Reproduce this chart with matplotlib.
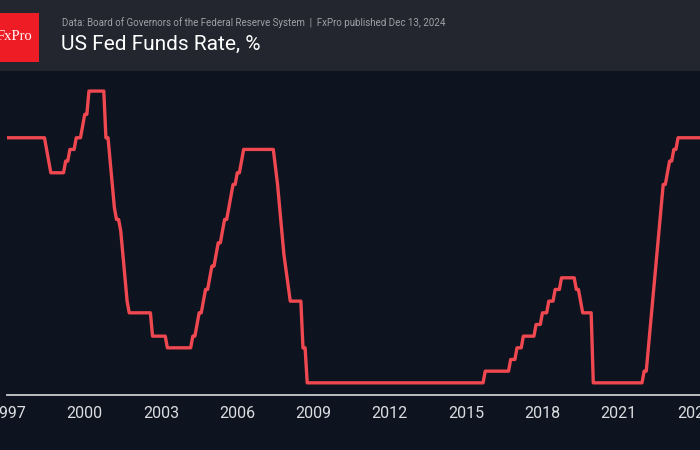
import matplotlib
matplotlib.use("Agg")
import matplotlib.pyplot as plt
from matplotlib.patches import Rectangle

# Fed funds target rate (upper bound), month-end values at the months around each change
months = ["1997-03", "1998-08", "1998-09", "1998-10", "1998-11", "1999-05", "1999-06", "1999-07",
          "1999-08", "1999-10", "1999-11", "2000-01", "2000-02", "2000-03", "2000-04", "2000-05",
          "2000-12", "2001-01", "2001-02", "2001-03", "2001-04", "2001-05", "2001-06", "2001-07",
          "2001-08", "2001-09", "2001-10", "2001-11", "2001-12", "2002-10", "2002-11", "2003-05",
          "2003-06", "2004-05", "2004-06", "2004-07", "2004-08", "2004-09", "2004-10", "2004-11",
          "2004-12", "2005-01", "2005-02", "2005-03", "2005-04", "2005-05", "2005-06", "2005-07",
          "2005-08", "2005-09", "2005-10", "2005-11", "2005-12", "2006-01", "2006-02", "2006-03",
          "2006-04", "2006-05", "2006-06", "2007-08", "2007-10", "2008-01", "2008-04", "2008-09",
          "2008-10", "2008-11", "2008-12", "2015-11", "2015-12", "2016-11", "2016-12", "2017-02",
          "2017-03", "2017-05", "2017-06", "2017-11", "2017-12", "2018-02", "2018-03", "2018-05",
          "2018-06", "2018-08", "2018-09", "2018-11", "2018-12", "2019-06", "2019-07", "2019-08",
          "2019-09", "2019-10", "2020-02", "2020-03", "2022-02", "2022-03", "2022-04", "2022-05",
          "2022-12", "2023-01", "2023-02", "2023-03", "2023-04", "2023-05", "2023-06", "2023-07",
          "2024-08", "2024-09", "2024-10", "2024-11", "2024-12"]
rates = [5.5, 5.5, 5.25, 5.0, 4.75, 4.75, 5.0, 5.0,
         5.25, 5.25, 5.5, 5.5, 5.75, 6.0, 6.0, 6.5,
         6.5, 5.5, 5.5, 5.0, 4.5, 4.0, 3.75, 3.75,
         3.5, 3.0, 2.5, 2.0, 1.75, 1.75, 1.25, 1.25,
         1.0, 1.0, 1.25, 1.25, 1.5, 1.75, 1.75, 2.0,
         2.25, 2.25, 2.5, 2.75, 2.75, 3.0, 3.25, 3.25,
         3.5, 3.75, 3.75, 4.0, 4.25, 4.5, 4.5, 4.75,
         4.75, 5.0, 5.25, 5.25, 4.5, 3.0, 2.0, 2.0,
         1.0, 1.0, 0.25, 0.25, 0.5, 0.5, 0.75, 0.75,
         1.0, 1.0, 1.25, 1.25, 1.5, 1.5, 1.75, 1.75,
         2.0, 2.0, 2.25, 2.25, 2.5, 2.5, 2.25, 2.25,
         2.0, 1.75, 1.75, 0.25, 0.25, 0.5, 0.5, 1.0,
         4.5, 4.5, 4.75, 5.0, 5.0, 5.25, 5.25, 5.5,
         5.5, 5.0, 5.0, 4.75, 4.5]
tick_years = [1997, 2000, 2003, 2006, 2009, 2012, 2015, 2018, 2021, 2024]

BG = "#0d131f"
HEADER = "#23262e"
RED = "#ef4850"

# month strings -> decimal years
x = [int(m[:4]) + (int(m[5:]) - 1) / 12 for m in months]

fig = plt.figure(figsize=(7, 4.5), dpi=100, facecolor=BG)

# header band and logo
fig.patches.append(Rectangle((0, 1 - 71 / 450), 1, 71 / 450, transform=fig.transFigure,
                             facecolor=HEADER, edgecolor="none", zorder=0))
fig.patches.append(Rectangle((0, 1 - 62 / 450), 39 / 700, 49 / 450, transform=fig.transFigure,
                             facecolor="#ee1c25", edgecolor="none", zorder=1))
fig.text(32.5 / 700, 1 - 37 / 450, "FxPro", color="white", fontsize=10.5,
         family=["Liberation Serif", "DejaVu Serif"], ha="right", va="center")
fig.text(62 / 700, 1 - 23 / 450,
         "Data: Board of Governors of the Federal Reserve System  |  FxPro published Dec 13, 2024",
         color="#9fa1a8", fontsize=7, family="Roboto", ha="left", va="center")
fig.text(61 / 700, 1 - 44 / 450, "US Fed Funds Rate, %", color="white", fontsize=15,
         family="Roboto", ha="left", va="center")

ax = fig.add_axes([7 / 700, 55.5 / 450, 713 / 700, 323.5 / 450])
ax.set_facecolor(BG)
ax.plot(x, rates, color=RED, lw=2.4, solid_joinstyle="round")

# the year labels sit about two months after January in the reference
ax.set_xlim(1997.11, 2025.15)
ax.set_ylim(0, 6.93)
ax.set_xticks([y + 2 / 12 for y in tick_years])
ax.set_xticklabels([str(y) for y in tick_years])
ax.set_yticks([])
ax.tick_params(axis="x", length=0, pad=8, labelsize=11.5, labelcolor="#dcdde0")
for lab in ax.get_xticklabels():
    lab.set_family("Roboto")
for s in ["top", "right", "left"]:
    ax.spines[s].set_visible(False)
ax.spines["bottom"].set_color("#c9cacd")
ax.spines["bottom"].set_linewidth(1.3)

fig.savefig("out.png", dpi=100, facecolor=BG)
